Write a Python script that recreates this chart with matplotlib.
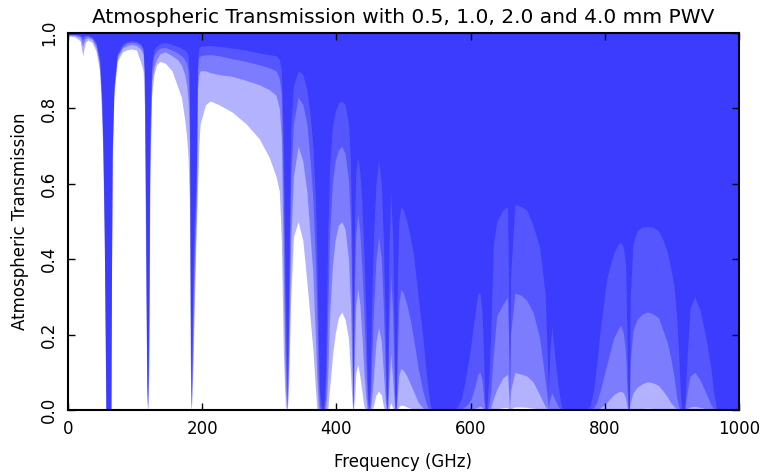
import matplotlib
matplotlib.use('Agg')
import matplotlib.pyplot as plt

# frequency grid (GHz)
freq = [
    0, 10, 18, 21, 22.2, 23.5, 26, 30, 36, 42, 47, 50, 52, 54, 55.5,
    56.5, 64, 65, 66, 68.5, 73.4, 81, 88, 95, 102, 108, 112, 114, 116,
    117.5, 118.75, 120.5, 122, 124.7, 128, 132, 137, 145, 155, 163, 169, 174, 177, 179, 181, 182, 183.3, 184.5, 186, 188, 190, 191.5, 193, 195,
    197, 205, 212, 225, 245, 265, 285, 300, 310, 315, 318, 321, 324, 327,
    329, 332, 336, 343, 350, 356, 361, 365, 369, 371, 373, 375,
    378, 381, 384, 387, 390, 394, 398, 403, 408, 413, 418, 421, 423, 424.2, 424.8,
    425.5, 427, 429, 432, 435, 438, 441, 444, 446, 448,
    450, 452, 455, 459, 463, 467, 470, 472.5, 474.7,
    476.5, 478, 481, 484, 486.5, 487.5, 488.5,
    489.5, 491, 493, 496, 500, 505, 510, 515, 522, 529, 535, 540, 545,
    575, 581, 586, 591, 596, 601, 606, 611, 614, 617, 619.5, 621.5,
    624, 627, 630, 634, 639, 648, 655, 656.5, 658, 659.5, 666, 675, 684, 693, 703, 711, 716, 718, 721, 725, 730, 735, 740,
    770, 778, 783, 788, 793, 803, 813, 820, 824, 828, 831, 833, 835,
    836.5, 838, 842, 848, 856, 864, 872, 880, 887, 893, 898, 903, 907, 910, 913, 915,
    919, 922, 927, 934, 942, 952, 958, 962, 967, 975, 1000,
]

# transmission for 0.5 mm PWV
trans_05 = [
    .998, .997, .995, .992, .990, .993, .995, .994, .990, .975, .935, .845, .72, .50, .22,
    0, 0, .42, .70, .86, .945, .97, .978, .980, .978, .972, .96, .90, .50,
    .10, 0, .30, .75, .92, .955, .965, .972, .975, .97, .965, .96, .955, .95, .94, .88, .55, .02, .15, .35, .50, .58, .66, .93, .96,
    .965, .966, .967, .965, .96, .955, .947, .943, .94, .93, .90, .70, .30, .05,
    .35, .75, .86, .90, .89, .85, .78, .70, .55, .40, .20, .05,
    0, 0, .10, .45, .65, .75, .79, .815, .82, .81, .76, .66, .45, .10, 0,
    .20, .50, .63, .67, .63, .55, .42, .25, .08, 0,
    .05, .25, .45, .60, .66, .60, .45, .25, 0,
    .05, .40, .58, .45, .15, 0, 0,
    .05, .35, .50, .54, .53, .50, .46, .41, .30, .19, .08, .01, 0,
    0, .01, .03, .07, .12, .18, .25, .31, .31, .26, .14, 0,
    0, .08, .20, .44, .50, .53, .54, .35, .05, .35, .545, .54, .53, .49, .43, .31, .05, .15, .22, .15, .07, .01, 0,
    0, .01, .05, .12, .21, .35, .415, .44, .445, .43, .38, .20, 0,
    0, .30, .44, .475, .485, .487, .485, .475, .45, .42, .38, .33, .25, .15, .03, 0,
    0, .12, .27, .30, .265, .18, .11, .05, 0, 0, 0,
]

# transmission for 1.0 mm PWV
trans_10 = [
    .997, .996, .993, .985, .982, .987, .992, .992, .987, .970, .925, .835, .71, .49, .21,
    0, 0, .41, .69, .855, .94, .965, .974, .976, .974, .968, .955, .89, .45,
    .07, 0, .22, .70, .90, .94, .952, .96, .962, .955, .948, .94, .93, .92, .90, .80, .40, 0, .08, .25, .42, .52, .62, .90, .935,
    .94, .942, .943, .94, .932, .925, .916, .908, .90, .88, .84, .55, .15, .01,
    .25, .62, .76, .83, .81, .76, .66, .56, .38, .25, .08, .01,
    0, 0, .03, .25, .47, .60, .66, .69, .70, .68, .61, .50, .30, .05, 0,
    .08, .33, .47, .52, .47, .38, .26, .12, .03, 0,
    .01, .10, .25, .40, .46, .40, .27, .12, 0,
    .01, .20, .36, .25, .05, 0, 0,
    .01, .15, .28, .32, .31, .28, .24, .19, .11, .05, .01, 0, 0,
    0, 0, .003, .008, .016, .03, .06, .095, .10, .08, .03, 0,
    0, .01, .05, .15, .25, .28, .30, .20, .02, .20, .31, .305, .29, .26, .19, .08, .005, .03, .045, .03, .01, 0, 0,
    0, 0, .005, .02, .05, .12, .19, .215, .225, .20, .15, .06, 0,
    0, .13, .21, .24, .255, .26, .255, .245, .21, .18, .14, .09, .035, .01, 0, 0,
    0, .04, .09, .10, .08, .04, .015, .005, 0, 0, 0,
]

# transmission for 2.0 mm PWV
trans_20 = [
    .995, .994, .988, .970, .965, .975, .985, .988, .983, .962, .915, .815, .69, .47, .20,
    0, 0, .405, .68, .845, .935, .96, .967, .970, .967, .958, .945, .87, .40,
    .05, 0, .15, .65, .87, .91, .93, .945, .95, .94, .93, .915, .89, .86, .82, .72, .30, 0, .04, .15, .33, .45, .55, .85, .89,
    .90, .90, .895, .89, .885, .875, .863, .85, .835, .80, .72, .35, .05, 0,
    .15, .45, .62, .70, .66, .58, .46, .36, .18, .08, .01, 0,
    0, 0, 0, .08, .25, .38, .45, .49, .50, .48, .40, .28, .12, .02, 0,
    .02, .15, .28, .32, .28, .20, .10, .03, 0, 0,
    0, .02, .08, .18, .22, .18, .10, .03, 0,
    0, .06, .15, .08, .01, 0, 0,
    0, .04, .09, .11, .105, .09, .07, .05, .02, .005, 0, 0, 0,
    0, 0, 0, 0, 0, .001, .004, .008, .01, .007, .002, 0,
    0, 0, .005, .03, .055, .085, .095, .05, 0, .05, .10, .095, .09, .075, .04, .01, 0, .001, .002, .001, 0, 0, 0,
    0, 0, 0, .002, .005, .02, .04, .048, .05, .045, .03, .01, 0,
    0, .02, .045, .06, .07, .075, .072, .065, .05, .035, .02, .01, .003, 0, 0, 0,
    0, .002, .008, .01, .007, .003, 0, 0, 0, 0, 0,
]

# transmission for 4.0 mm PWV
trans_40 = [
    .992, .990, .980, .950, .940, .955, .975, .982, .975, .951, .90, .79, .67, .45, .19,
    0, 0, .40, .67, .836, .925, .95, .956, .958, .955, .925, .90, .80, .30,
    .03, 0, .10, .60, .836, .89, .916, .925, .92, .90, .86, .83, .77, .72, .67, .55, .15, 0, .02, .10, .25, .40, .50, .58, .70,
    .76, .81, .82, .81, .79, .76, .72, .67, .62, .58, .45, .15, .01, 0,
    .08, .30, .46, .50, .45, .34, .24, .16, .05, 0, 0, 0,
    0, 0, 0, 0, .06, .14, .20, .245, .26, .24, .19, .10, .03, 0, 0,
    0, .03, .10, .12, .09, .05, .01, 0, 0, 0,
    0, 0, .01, .04, .05, .04, .01, 0, 0,
    0, 0, .02, .005, 0, 0, 0,
    0, .002, .008, .013, .012, .008, .005, .002, 0, 0, 0, 0, 0,
    0, 0, 0, 0, 0, 0, 0, 0, 0, 0, 0, 0,
    0, 0, 0, .001, .003, .006, .007, .003, 0, .003, .008, .008, .007, .005, .002, 0, 0, 0, 0, 0, 0, 0, 0,
    0, 0, 0, 0, 0, 0, 0, 0, 0, 0, 0, 0, 0,
    0, 0, .002, .003, .004, .005, .004, .003, .002, .001, 0, 0, 0, 0, 0, 0,
    0, 0, 0, 0, 0, 0, 0, 0, 0, 0, 0,
]

series = [trans_05, trans_10, trans_20, trans_40]
xticks = [0, 200, 400, 600, 800, 1000]
yticks = [0.0, 0.2, 0.4, 0.6, 0.8, 1.0]

fig = plt.figure(figsize=(7.62, 4.73), dpi=100)
ax = fig.add_axes([0.0892, 0.1332, 0.8806, 0.7968])

# each layer is blue with alpha, overlaps give the darker shades
for t in series:
    ax.fill_between(freq, t, 1, color='b', alpha=0.3, lw=0)

ax.set_xlim(0, 1000)
ax.set_ylim(0, 1)
ax.set_xticks(xticks)
ax.set_yticks(yticks)
ax.set_xticklabels([str(v) for v in xticks])
ax.set_yticklabels(['%.1f' % v for v in yticks], rotation=90, va='center')
ax.tick_params(direction='in', length=5, width=1, top=True, right=True,
               labelsize=12, pad=7)
for s in ax.spines.values():
    s.set_linewidth(1.5)

ax.set_title("Atmospheric Transmission with 0.5, 1.0, 2.0 and 4.0 mm PWV",
             fontsize=14.5, pad=7)
ax.set_xlabel("Frequency (GHz)", fontsize=12, labelpad=11)
ax.set_ylabel("Atmospheric Transmission", fontsize=12, labelpad=8)

fig.savefig('out.png', dpi=100)
